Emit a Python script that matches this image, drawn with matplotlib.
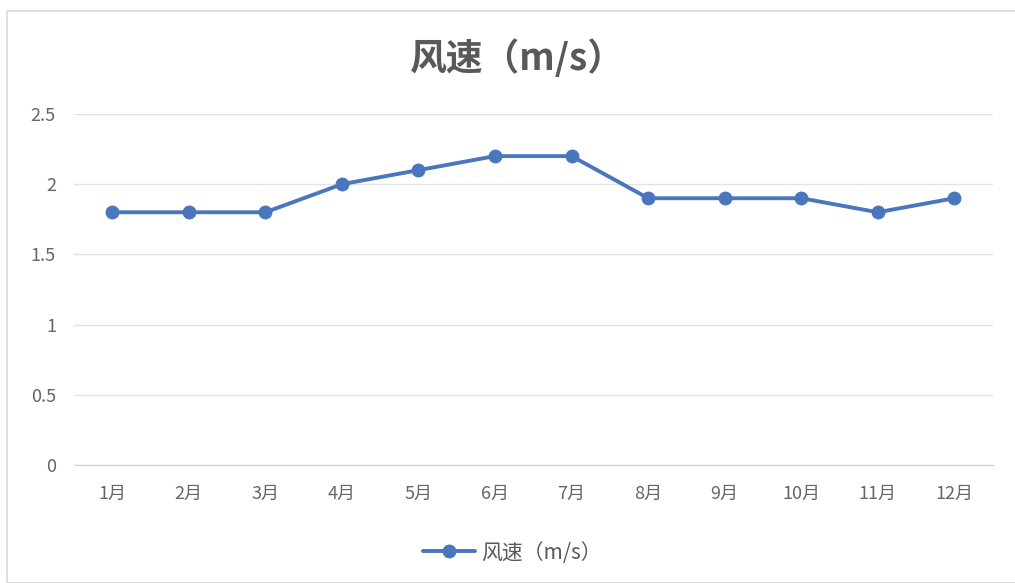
import matplotlib
matplotlib.use("Agg")
import matplotlib.pyplot as plt
from matplotlib.patches import Rectangle

plt.rcParams['font.family'] = ['Noto Sans CJK SC', 'DejaVu Sans']

months = ['1月', '2月', '3月', '4月', '5月', '6月', '7月', '8月', '9月', '10月', '11月', '12月']
wind = [1.8, 1.8, 1.8, 2.0, 2.1, 2.2, 2.2, 1.9, 1.9, 1.9, 1.8, 1.9]
yticks = [0, 0.5, 1, 1.5, 2, 2.5]
ylabels = ['0', '0.5', '1', '1.5', '2', '2.5']
series_name = '风速（m/s）'
title = '风速（m/s）'

fig = plt.figure(figsize=(10.15, 5.83), dpi=100)
ax = fig.add_axes([0.0729, 0.2024, 0.9051, 0.6021])

color = '#4a76bd'
x = list(range(len(months)))
ax.plot(x, wind, color=color, lw=2.8, marker='o', ms=9, label=series_name, solid_capstyle='round')

ax.set_xlim(-0.5, len(months) - 0.5)
ax.set_ylim(0, 2.5)
ax.set_yticks(yticks)
ax.set_yticklabels(ylabels)
ax.set_xticks(x)
ax.set_xticklabels(months)
ax.grid(axis='y', color='#e3e3e3', lw=1)
ax.set_axisbelow(True)
for s in ['top', 'right', 'left']:
    ax.spines[s].set_visible(False)
ax.spines['bottom'].set_color('#d0d0d0')
ax.tick_params(axis='both', length=0, labelsize=13, colors='#666666')
ax.tick_params(axis='x', pad=14)
ax.tick_params(axis='y', pad=13)

fig.text(0.51, 0.9, title, ha='center', va='center', fontsize=26.5, fontweight='bold', color='#595959')

leg = fig.legend(loc='center', bbox_to_anchor=(0.505, 0.052), frameon=False, fontsize=15,
                 handlelength=2.5, handletextpad=0.3, labelcolor='#595959')

fig.patches.append(Rectangle((7 / 1015, 0.0), 1.0, 1 - 11 / 583, transform=fig.transFigure,
                             fill=False, edgecolor='#d9d9d9', lw=1.2))

fig.savefig('out.png', dpi=100)
